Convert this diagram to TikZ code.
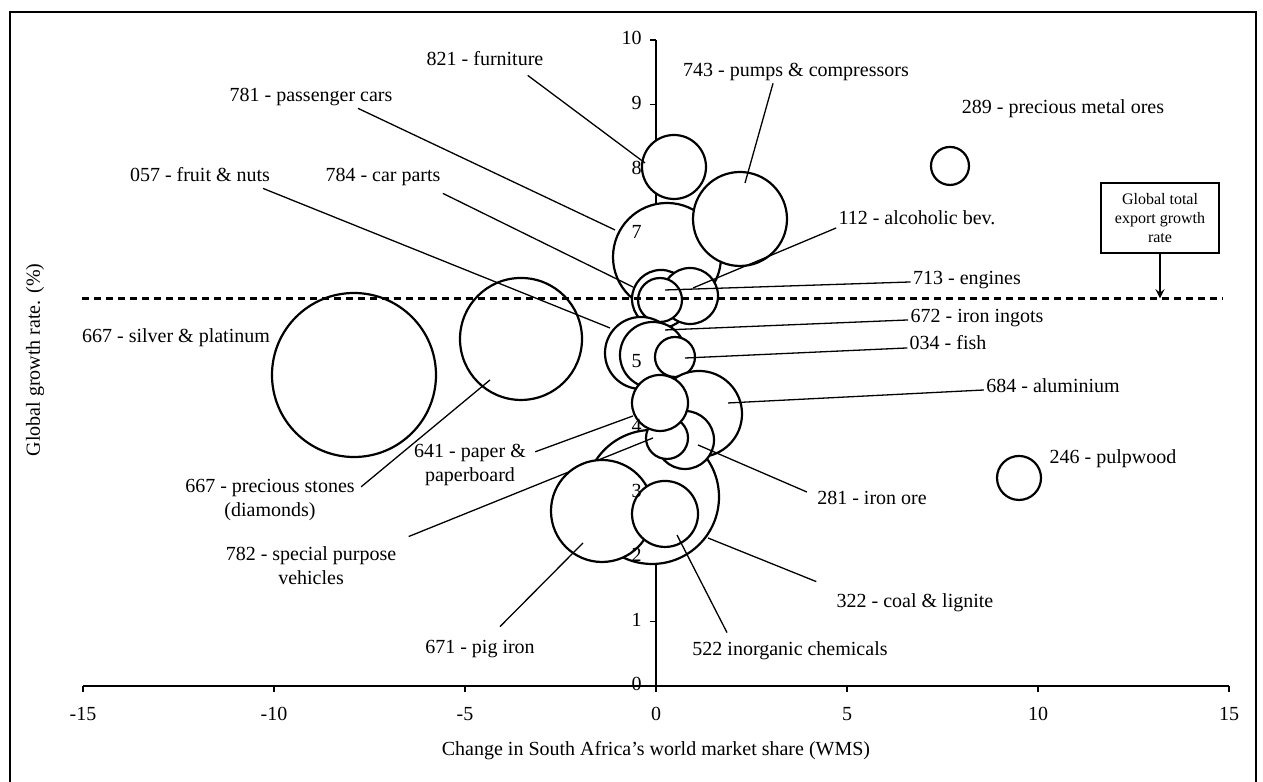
\documentclass[tikz,border=0pt]{standalone}
\usepackage{fontspec}
\setmainfont{Liberation Serif}
\usetikzlibrary{arrows.meta}
\begin{document}
\begin{tikzpicture}[>=stealth,x=19.1pt,y=32.3pt,
    bubble/.style={draw,line width=1.1pt,fill=white},
    lbl/.style={inner sep=1pt,text height=7pt,text depth=2pt},
    lbltwo/.style={inner sep=1pt,align=center},
    leader/.style={line width=.65pt}]
  \useasboundingbox (-17.173,-1.486) rectangle (15.890,10.619);
  % frame of the figure
  \draw[line width=.8pt] (-16.91,-1.6) -- (-16.91,10.43) -- (15.71,10.43) -- (15.71,-1.6);
  % axes
  \draw[line width=.7pt] (-15,0) -- (15,0);
  \draw[line width=.7pt] (0,0) -- (0,10);
  \foreach \x in {-15,-10,...,15} {
    \draw[line width=.7pt] (\x,0) -- ++(0,-3pt);
    \node[lbl] (xt\x) at ([yshift=-15pt]\x,0) {\x};
  }
  \foreach \y in {0,...,10} \draw[line width=.7pt] (0,\y) -- ++(-3pt,0);
  \node[lbl] (xtitle) at (0,-0.991) {Change in South Africa's world market share (WMS)};
  \node[lbl,rotate=90] (ytitle) at (-16.257,5.046) {Global growth rate. (\%)};
  % bubbles
  \foreach \bx/\by/\br in {-7.906/4.814/41, -3.534/5.372/30.5, 7.696/8.050/9.5,
      9.503/3.220/11, 0.288/6.641/27, 0.471/8.034/16, 2.199/7.229/23.5,
      0.131/5.991/14.5, 0.890/6.037/14, 0.105/5.975/11, -0.393/5.155/18,
      -0.079/5.124/16.5, 0.497/5.093/10, -0.105/2.926/33.5, 1.126/4.211/21.5,
      0.759/3.808/14.5, 0.288/3.839/10.5, 0.105/4.381/14}
    \draw[bubble] (\bx,\by) circle[radius=\br pt];
  % labels
  \node[lbl] (lfurn) at (-4.476,9.690) {821 - furniture};
  \node[lbl] (lpump) at (3.665,9.505) {743 - pumps \& compressors};
  \node[lbl] (lpass) at (-9.031,9.118) {781 - passenger cars};
  \node[lbl] (lfruit) at (-11.937,7.879) {057 - fruit \& nuts};
  \node[lbl] (lcarp) at (-7.147,7.879) {784 - car parts};
  \node[lbl] (lores) at (10.654,8.947) {289 - precious metal ores};
  \node[lbl] (lalc) at (6.832,7.214) {112 - alcoholic bev.};
  \node[lbl] (leng) at (8.141,6.285) {713 - engines};
  \node[lbl] (ling) at (8.403,5.697) {672 - iron ingots};
  \node[lbl] (lfish) at (7.644,5.279) {034 - fish};
  \node[lbl] (lalu) at (10.393,4.613) {684 - aluminium};
  \node[lbl] (lsilv) at (-12.565,5.387) {667 - silver \& platinum};
  \node[lbltwo] (lstone) at (-10.105,2.879) {667 - precious stones\\(diamonds)};
  \node[lbltwo] (lpaper) at (-4.869,3.421) {641 - paper \&\\paperboard};
  \node[lbltwo] (lspec) at (-9.031,1.858) {782 - special purpose\\vehicles};
  \node[lbl] (lpulp) at (11.963,3.529) {246 - pulpwood};
  \node[lbl] (lore) at (5.654,2.879) {281 - iron ore};
  \node[lbl] (lcoal) at (6.780,1.300) {322 - coal \& lignite};
  \node[lbl] (linorg) at (3.508,0.557) {522 inorganic chemicals};
  \node[lbl] (lpig) at (-4.607,0.588) {671 - pig iron};
  % leader ends
  \coordinate (efurn) at (-0.288,8.096);
  \coordinate (epump) at (2.330,7.786);
  \coordinate (epass) at (-1.073,7.059);
  \coordinate (efruit) at (-1.204,5.542);
  \coordinate (ecarp) at (-0.602,6.176);
  \coordinate (ealc) at (0.969,6.161);
  \coordinate (eeng) at (0.236,6.130);
  \coordinate (eing) at (0.236,5.511);
  \coordinate (efish) at (0.759,5.077);
  \coordinate (ealu) at (1.885,4.381);
  \coordinate (estone) at (-4.346,4.737);
  \coordinate (epaper) at (-0.602,4.180);
  \coordinate (espec) at (-0.079,3.839);
  \coordinate (eore) at (1.099,3.731);
  \coordinate (ecoal) at (1.361,2.291);
  \coordinate (einorg) at (0.550,2.337);
  \coordinate (epig) at (-1.911,2.214);
  \draw[leader] ([shift={(5pt,4pt)}]lspec.north east) -- (espec);
  \draw[bubble] (-1.414,2.709) circle[radius=25.5pt];
  \draw[bubble] (0.236,2.663) circle[radius=16.5pt];
  % leaders
  \draw[leader] ([shift={(-9pt,-2pt)}]lfurn.south east) -- (efurn);
  \draw[leader] ([xshift=-11.5pt]lpump.south) -- (epump);
  \draw[leader] ([xshift=23.5pt]lpass.south) -- (epass);
  \draw[leader] ([xshift=31.5pt]lfruit.south) -- (efruit);
  \draw[leader] ([yshift=-2.5pt]lcarp.south east) -- (ecarp);
  \draw[leader] ([yshift=-4pt]lalc.west) -- (ealc);
  \draw[leader] ([yshift=-1pt]leng.west) -- (eeng);
  \draw[leader] ([yshift=-1pt]ling.west) -- (eing);
  \draw[leader] ([yshift=-1.5pt]lfish.west) -- (efish);
  \draw[leader] ([yshift=-1pt]lalu.west) -- (ealu);
  \draw[leader] ([shift={(2pt,-5pt)}]lstone.north east) -- (estone);
  \draw[leader] ([shift={(3.5pt,-5pt)}]lpaper.north east) -- (epaper);
  \draw[leader] ([shift={(-4pt,4pt)}]lore.west) -- (eore);
  \draw[leader] ([shift={(-9pt,4.5pt)}]lcoal.north west) -- (ecoal);
  \draw[leader] ([shift={(-31.5pt,3pt)}]linorg.north) -- (einorg);
  \draw[leader] ([shift={(10pt,5pt)}]lpig.north) -- (epig);
  % y tick labels
  \foreach \y in {0,1,2,3,4,5,7,8,9,10}
    \node[lbl,anchor=east] (yt\y) at ([xshift=-6pt]0,\y) {\y};
  % global growth rate line
  \draw[line width=1.2pt,dash pattern=on 3.5pt off 2.5pt] (-15.03,6) -- (14.84,6);
  \node[draw,line width=.8pt,font=\fontsize{8}{9.5}\selectfont,align=center,
    minimum width=59pt,minimum height=35pt,inner sep=1pt] (gbox) at (13.194,7.245)
    {Global total\\export growth\\rate};
  \coordinate (gtip) at (13.194,6);
  \draw[->,line width=1pt] (gbox) -- (gtip);
\end{tikzpicture}
\end{document}
